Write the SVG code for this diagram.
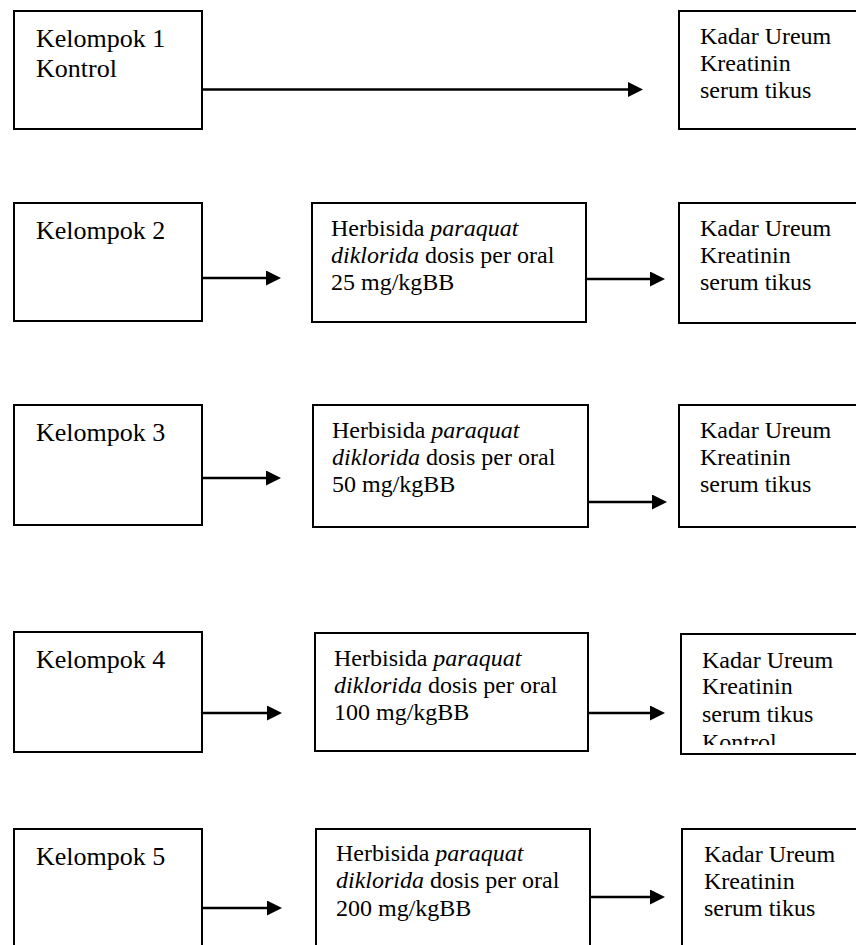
<svg xmlns="http://www.w3.org/2000/svg" width="856" height="945" viewBox="0 0 856 945">
<style>
.box{fill:#fff;stroke:#000;stroke-width:2}
text{font-family:'Liberation Serif','Times New Roman','DejaVu Serif',serif;fill:#000}
.l{font-size:26px}
.m{font-size:24px}
.c{stroke:#000;stroke-width:2.6;fill:none}
</style>
<defs>
<marker id="ah" markerUnits="userSpaceOnUse" markerWidth="15" markerHeight="15" refX="3" refY="7.5" orient="auto">
<path d="M0,0 L15,7.5 L0,15 z" fill="#000"/>
</marker>
<clipPath id="clip4"><rect x="681" y="634" width="180" height="111"/></clipPath>
</defs>
<rect width="856" height="945" fill="#fff"/>

<g id="connectors">
<line class="c" x1="202" y1="89.5" x2="631" y2="89.5" marker-end="url(#ah)"/>
<line class="c" x1="202" y1="278" x2="269" y2="278" marker-end="url(#ah)"/>
<line class="c" x1="586" y1="279" x2="653" y2="279" marker-end="url(#ah)"/>
<line class="c" x1="202" y1="478" x2="269" y2="478" marker-end="url(#ah)"/>
<line class="c" x1="588" y1="502" x2="655" y2="502" marker-end="url(#ah)"/>
<line class="c" x1="202" y1="713" x2="270" y2="713" marker-end="url(#ah)"/>
<line class="c" x1="588" y1="713" x2="653" y2="713" marker-end="url(#ah)"/>
<line class="c" x1="202" y1="908" x2="270" y2="908" marker-end="url(#ah)"/>
<line class="c" x1="590" y1="897" x2="653" y2="897" marker-end="url(#ah)"/>
</g>

<g id="kelompok1">
<rect class="box" x="14" y="11" width="188" height="118"/>
<text class="l" x="36" y="47" font-family="Liberation Serif, serif">Kelompok 1</text>
<text class="l" x="36" y="77" font-family="Liberation Serif, serif">Kontrol</text>
</g>
<g id="hasil1">
<rect class="box" x="679" y="11" width="185" height="118"/>
<text class="m" x="700" y="44">Kadar Ureum</text>
<text class="m" x="700" y="71">Kreatinin</text>
<text class="m" x="700" y="98">serum tikus</text>
</g>

<g id="kelompok2">
<rect class="box" x="14" y="203" width="188" height="118"/>
<text class="l" x="36" y="239">Kelompok 2</text>
</g>
<g id="dosis2">
<rect class="box" x="312" y="203" width="274" height="119"/>
<text class="m" x="331" y="236">Herbisida <tspan font-style="italic">paraquat</tspan></text>
<text class="m" x="331" y="263"><tspan font-style="italic">diklorida</tspan> dosis per oral</text>
<text class="m" x="331" y="290">25 mg/kgBB</text>
</g>
<g id="hasil2">
<rect class="box" x="679" y="203" width="185" height="120"/>
<text class="m" x="700" y="236">Kadar Ureum</text>
<text class="m" x="700" y="263">Kreatinin</text>
<text class="m" x="700" y="290">serum tikus</text>
</g>

<g id="kelompok3">
<rect class="box" x="14" y="405" width="188" height="120"/>
<text class="l" x="36" y="441">Kelompok 3</text>
</g>
<g id="dosis3">
<rect class="box" x="313" y="405" width="275" height="122"/>
<text class="m" x="332" y="438">Herbisida <tspan font-style="italic">paraquat</tspan></text>
<text class="m" x="332" y="465"><tspan font-style="italic">diklorida</tspan> dosis per oral</text>
<text class="m" x="332" y="492">50 mg/kgBB</text>
</g>
<g id="hasil3">
<rect class="box" x="679" y="405" width="185" height="122"/>
<text class="m" x="700" y="438">Kadar Ureum</text>
<text class="m" x="700" y="465">Kreatinin</text>
<text class="m" x="700" y="492">serum tikus</text>
</g>

<g id="kelompok4">
<rect class="box" x="14" y="632" width="188" height="120"/>
<text class="l" x="36" y="668">Kelompok 4</text>
</g>
<g id="dosis4">
<rect class="box" x="315" y="633" width="273" height="118"/>
<text class="m" x="334" y="666">Herbisida <tspan font-style="italic">paraquat</tspan></text>
<text class="m" x="334" y="693"><tspan font-style="italic">diklorida</tspan> dosis per oral</text>
<text class="m" x="334" y="720">100 mg/kgBB</text>
</g>
<g id="hasil4">
<rect class="box" x="681" y="634" width="183" height="120"/>
<g clip-path="url(#clip4)">
<text class="m" x="702" y="668">Kadar Ureum</text>
<text class="m" x="702" y="694">Kreatinin</text>
<text class="m" x="702" y="722">serum tikus</text>
<text class="m" x="702" y="750">Kontrol</text>
</g>
</g>

<g id="kelompok5">
<rect class="box" x="14" y="829" width="188" height="130"/>
<text class="l" x="36" y="865">Kelompok 5</text>
</g>
<g id="dosis5">
<rect class="box" x="316" y="829" width="274" height="130"/>
<text class="m" x="336" y="861">Herbisida <tspan font-style="italic">paraquat</tspan></text>
<text class="m" x="336" y="888"><tspan font-style="italic">diklorida</tspan> dosis per oral</text>
<text class="m" x="336" y="916">200 mg/kgBB</text>
</g>
<g id="hasil5">
<rect class="box" x="682" y="829" width="182" height="130"/>
<text class="m" x="704" y="862">Kadar Ureum</text>
<text class="m" x="704" y="889">Kreatinin</text>
<text class="m" x="704" y="916">serum tikus</text>
</g>
</svg>
